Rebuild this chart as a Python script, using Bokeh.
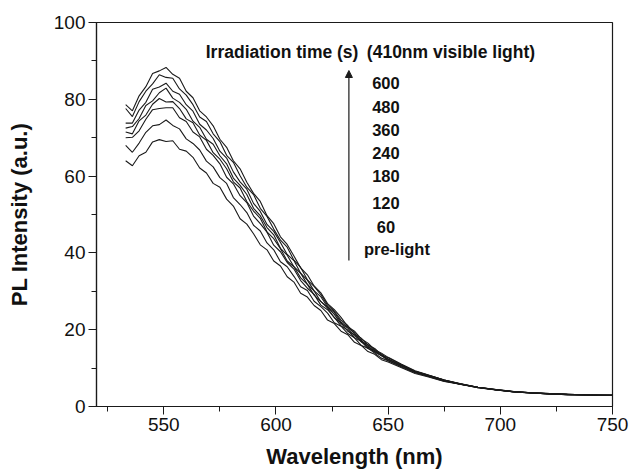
from bokeh.plotting import figure
from bokeh.models import Range1d, SingleIntervalTicker, Arrow, NormalHead, Label
from bokeh.embed import file_html
from bokeh.resources import INLINE

wavelength = [533, 536, 539, 542, 545, 548, 551, 554, 557, 560, 563, 566, 569, 572, 575,
              578, 581, 584, 587, 590, 593, 596, 599, 602, 605, 608, 611, 614, 617, 620,
              623, 626, 629, 632, 635, 638, 641, 644, 647, 650,
              656, 662, 668, 675, 682, 690, 698, 706, 714, 722, 730, 740, 750]

pl_pre = [64.0, 62.7, 65.3, 66.2, 68.9, 69.5, 69.0, 69.2, 67.0, 66.5, 64.9, 62.1, 60.8, 58.1, 57.1,
          54.0, 52.2, 48.9, 47.5, 45.0, 42.1, 40.8, 37.9, 36.6, 33.8, 32.4, 29.5, 28.5, 26.3, 25.0,
          22.5, 21.6, 19.6, 18.7, 16.7, 15.9, 14.3, 13.6, 12.2, 11.6,
          10.1, 8.6, 7.7, 6.5, 5.8, 4.9, 4.3, 3.8, 3.5, 3.3, 3.1, 3.0, 2.9]
pl_60 = [68.0, 66.2, 68.6, 71.4, 73.1, 73.4, 74.6, 73.2, 72.3, 69.7, 68.5, 66.8, 63.9, 62.4, 59.6,
         58.1, 54.4, 52.6, 50.5, 47.2, 45.7, 42.6, 40.8, 37.7, 36.4, 33.9, 31.2, 30.2, 27.4, 26.0,
         24.3, 21.8, 20.9, 19.0, 17.9, 15.9, 15.2, 13.9, 12.6, 11.9,
         10.3, 8.8, 7.8, 6.6, 5.9, 4.9, 4.35, 3.8, 3.55, 3.3, 3.1, 3.0, 2.9]
pl_120 = [70.0, 70.1, 71.8, 74.8, 77.3, 77.6, 77.8, 77.8, 75.2, 74.2, 71.5, 70.2, 67.0, 65.4, 63.2,
          59.7, 58.0, 54.9, 53.1, 49.6, 47.6, 45.4, 42.0, 40.3, 37.5, 35.8, 32.8, 30.8, 29.2, 26.4,
          25.2, 23.2, 21.0, 19.9, 17.9, 17.0, 15.1, 14.3, 13.3, 11.9,
          10.5, 8.9, 7.9, 6.7, 5.8, 5.0, 4.3, 3.85, 3.5, 3.3, 3.15, 3.0, 2.9]
pl_180 = [71.5, 71.0, 74.4, 75.9, 78.7, 80.2, 79.3, 79.4, 77.6, 74.9, 73.9, 70.7, 69.3, 66.1, 64.4,
          61.9, 58.5, 56.9, 53.4, 50.9, 49.0, 45.5, 43.7, 41.1, 37.9, 36.4, 33.5, 31.8, 29.0, 27.4,
          25.6, 23.1, 21.8, 19.6, 18.7, 16.8, 15.7, 14.1, 13.3, 12.3,
          10.6, 9.0, 8.0, 6.8, 5.85, 4.95, 4.35, 3.85, 3.55, 3.3, 3.1, 3.0, 2.9]
pl_240 = [72.5, 72.9, 75.0, 78.4, 79.6, 81.7, 82.9, 80.3, 79.2, 77.4, 74.3, 72.7, 69.6, 68.3, 65.3,
          63.2, 59.5, 57.6, 55.2, 51.6, 49.7, 46.6, 44.7, 41.2, 39.4, 36.4, 34.7, 31.8, 30.1, 27.3,
          25.9, 24.0, 21.6, 20.4, 18.4, 17.3, 15.4, 14.6, 13.2, 12.4,
          10.7, 9.1, 8.0, 6.8, 5.8, 5.0, 4.4, 3.8, 3.5, 3.35, 3.1, 3.0, 2.9]
pl_360 = [73.8, 73.8, 77.2, 79.2, 82.6, 83.2, 84.2, 82.1, 81.3, 78.6, 76.9, 73.5, 72.0, 69.8, 66.5,
          64.7, 61.1, 58.5, 56.6, 52.9, 50.8, 47.4, 45.6, 42.7, 39.6, 38.0, 34.7, 32.9, 30.1, 28.6,
          25.9, 24.5, 22.0, 20.6, 19.2, 17.0, 16.1, 14.5, 13.7, 12.2,
          10.8, 9.2, 8.1, 6.9, 5.9, 5.0, 4.35, 3.85, 3.55, 3.3, 3.15, 3.0, 2.9]
pl_480 = [77.6, 75.5, 79.4, 82.1, 84.0, 86.4, 85.7, 85.5, 82.7, 81.1, 78.6, 75.4, 74.2, 71.0, 69.0,
          65.4, 63.6, 60.1, 57.1, 55.2, 51.6, 49.5, 46.2, 43.3, 41.5, 38.1, 36.2, 33.0, 31.3, 29.1,
          26.4, 24.8, 22.5, 21.1, 18.9, 17.8, 16.0, 15.1, 13.5, 12.7,
          10.9, 9.2, 8.1, 6.9, 5.9, 5.0, 4.4, 3.9, 3.6, 3.35, 3.2, 3.0, 2.9]
pl_600 = [78.6, 77.0, 80.9, 83.3, 86.7, 87.4, 88.3, 86.5, 85.5, 82.1, 80.4, 77.0, 75.4, 73.1, 69.6,
          67.5, 64.0, 61.9, 58.4, 55.5, 53.4, 49.7, 47.6, 44.2, 42.2, 39.2, 36.1, 34.3, 31.4, 29.6,
          26.8, 25.2, 23.2, 20.8, 19.6, 17.6, 16.5, 14.8, 13.9, 12.8,
          11.0, 9.3, 8.2, 6.9, 6.0, 5.0, 4.4, 3.9, 3.6, 3.4, 3.2, 3.0, 2.9]

series = [pl_pre, pl_60, pl_120, pl_180, pl_240, pl_360, pl_480, pl_600]
time_labels = ["600", "480", "360", "240", "180", "120", "60", "pre-light"]
time_label_y = [84.2, 77.9, 71.9, 66.0, 59.9, 52.9, 46.7, 41.0]
title_left = "Irradiation time (s)"
title_right = "(410nm visible light)"

FONT = "Liberation Sans"

p = figure(width=630, height=472, output_backend="svg", toolbar_location=None,
           x_range=Range1d(520, 750), y_range=Range1d(0, 100),
           min_border_left=96, min_border_right=18, min_border_top=22, min_border_bottom=66)
p.background_fill_color = "white"
p.border_fill_color = "white"
p.xgrid.visible = False
p.ygrid.visible = False
p.outline_line_color = "#1a1a1a"
p.outline_line_width = 1.2

for ys in series:
    p.line(wavelength, ys, line_color="#1a1a1a", line_width=1.1)

p.xaxis.ticker = SingleIntervalTicker(interval=50, num_minor_ticks=2)
p.yaxis.ticker = SingleIntervalTicker(interval=20, num_minor_ticks=2)
for ax in (p.xaxis[0], p.yaxis[0]):
    ax.axis_line_color = "#1a1a1a"
    ax.axis_line_width = 1.2
    ax.major_tick_line_color = "#1a1a1a"
    ax.minor_tick_line_color = "#1a1a1a"
    ax.major_tick_in = 0
    ax.major_tick_out = 8
    ax.minor_tick_in = 0
    ax.minor_tick_out = 5
    ax.major_label_text_font = FONT
    ax.major_label_text_font_size = "19px"
    ax.major_label_text_color = "#111111"
    ax.major_label_standoff = 3
    ax.axis_label_text_font = FONT
    ax.axis_label_text_font_style = "bold"
    ax.axis_label_text_font_size = "22px"
    ax.axis_label_text_color = "#111111"

p.xaxis.axis_label = "Wavelength (nm)"
p.yaxis.axis_label = "PL Intensity (a.u.)"
p.xaxis.axis_label_standoff = 10
p.yaxis.axis_label_standoff = 19

for txt, xx in ((title_left, 568.7), (title_right, 640.5)):
    p.add_layout(Label(x=xx, y=92.4, text=txt, text_font=FONT, text_font_style="bold",
                       text_font_size="17.5px", text_baseline="middle", text_align="left",
                       text_color="#111111"))

p.add_layout(Arrow(end=NormalHead(size=7, fill_color="#1a1a1a", line_color="#1a1a1a"),
                   x_start=632.5, y_start=38.0, x_end=632.5, y_end=87.5,
                   line_color="#1a1a1a", line_width=1.2))

for lbl, yy in zip(time_labels, time_label_y):
    xx = 653.9 if lbl == "pre-light" else 649.0
    p.add_layout(Label(x=xx, y=yy, text=lbl, text_font=FONT, text_font_style="bold",
                       text_font_size="16.5px", text_baseline="middle", text_align="center",
                       text_color="#111111"))

open("out.html", "w").write(file_html(p, INLINE))
